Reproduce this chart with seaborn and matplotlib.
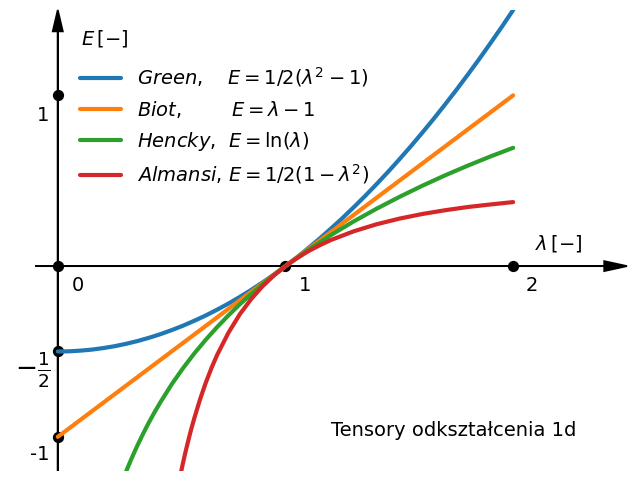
import matplotlib
matplotlib.use('Agg')

import seaborn as sns
import matplotlib.pyplot as plt
import pandas as pd

# wartości
lam_green = [0.0, 0.1, 0.2, 0.3, 0.4, 0.5, 0.6, 0.7, 0.8, 0.9, 1.0,
             1.1, 1.2, 1.3, 1.4, 1.5, 1.6, 1.7, 1.8, 1.9, 2.0]
E_green = [-0.5, -0.495, -0.48, -0.455, -0.42, -0.375, -0.32, -0.255, -0.18, -0.095, 0.0,
           0.105, 0.22, 0.345, 0.48, 0.625, 0.78, 0.945, 1.12, 1.305, 1.5]
# dodatkowe punkty pośrednie (odczyt)
lam_green_mid = [0.05, 0.15, 0.25, 0.35, 0.45, 0.55, 0.65, 0.75, 0.85, 0.95,
                 1.05, 1.15, 1.25, 1.35, 1.45, 1.55, 1.65, 1.75, 1.85, 1.95]
E_green_mid = [-0.499, -0.489, -0.469, -0.439, -0.399, -0.349, -0.289, -0.219, -0.139, -0.049,
               0.051, 0.161, 0.281, 0.411, 0.551, 0.701, 0.861, 1.031, 1.211, 1.401]

lam_biot = [0.0, 1.0, 2.0]
E_biot = [-1.0, 0.0, 1.0]

lam_hencky = [0.3, 0.31, 0.325, 0.34, 0.35, 0.375, 0.4, 0.425, 0.45, 0.5, 0.55, 0.6, 0.65, 0.7,
              0.75, 0.8, 0.85, 0.9, 0.95, 1.0,
              1.1, 1.2, 1.3, 1.4, 1.5, 1.6, 1.7, 1.8, 1.9, 2.0]
E_hencky = [-1.204, -1.171, -1.124, -1.079, -1.05, -0.981, -0.916, -0.856, -0.799, -0.693,
            -0.598, -0.511, -0.431, -0.357, -0.288, -0.223, -0.163, -0.105, -0.051, 0.0,
            0.095, 0.182, 0.262, 0.336, 0.405, 0.47, 0.531, 0.588, 0.642, 0.693]

lam_almansi = [0.54, 0.55, 0.56, 0.57, 0.58, 0.59, 0.6, 0.625, 0.65, 0.675, 0.7, 0.75, 0.8,
               0.85, 0.9, 0.95, 1.0, 1.05, 1.1, 1.15, 1.2, 1.3, 1.4, 1.5, 1.6, 1.7, 1.8, 1.9, 2.0]
E_almansi = [-1.215, -1.153, -1.094, -1.039, -0.986, -0.936, -0.889, -0.78, -0.683, -0.597,
             -0.52, -0.389, -0.281, -0.192, -0.117, -0.054, 0.0, 0.046, 0.087, 0.122,
             0.153, 0.204, 0.245, 0.278, 0.305, 0.327, 0.346, 0.361, 0.375]

labels = [r'$Green$,    $E=1/2(\lambda^2-1)$',
          r'$Biot$,        $E=\lambda-1$',
          r'$Hencky$,  $E=\ln(\lambda)$',
          r'$Almansi$, $E=1/2(1-\lambda^2)$']

pts_x = [0, 1, 2, 0, 0, 0]
pts_y = [0, 0, 0, 1, -0.5, -1]

green = pd.DataFrame({'lam': lam_green + lam_green_mid, 'E': E_green + E_green_mid})
green = green.sort_values('lam')

frames = [green.assign(tensor=labels[0])]
for lab, xs, ys in zip(labels[1:],
                       [lam_biot, lam_hencky, lam_almansi],
                       [E_biot, E_hencky, E_almansi]):
    frames.append(pd.DataFrame({'lam': xs, 'E': ys, 'tensor': lab}))
df = pd.concat(frames, ignore_index=True)

sns.set_style('white')
plt.rcParams['text.color'] = 'black'
fig = plt.figure(figsize=(6.4, 4.8), dpi=100)
ax = fig.add_axes([35/640, 9/480, 592/640, 461/480])

# punkty
ax.scatter(pts_x, pts_y, s=50, color='k', zorder=2)

sns.lineplot(data=df, x='lam', y='E', hue='tensor', palette=sns.color_palette('tab10', 4),
             sort=False, estimator=None, lw=3, ax=ax, zorder=3)

ax.set_xlim(-0.1, 2.5)
ax.set_ylim(-1.2, 1.5)
ax.axis('off')

# osie ze strzałkami
ax.arrow(-0.1, 0, 2.6, 0, width=0, head_width=0.058, head_length=0.1,
         length_includes_head=True, fc='k', ec='k', lw=1.3, zorder=1, clip_on=False)
ax.arrow(0, -1.2, 0, 2.7, width=0, head_width=0.044, head_length=0.125,
         length_includes_head=True, fc='k', ec='k', lw=1.3, zorder=1, clip_on=False)

ax.text(0.1, 1.335, r'$E\,[-]$', fontsize=14, ha='left', va='center')
ax.text(2.2, 0.134, r'$\lambda\,[-]$', fontsize=14, ha='center', va='center')

ax.text(0.088, -0.111, '0', fontsize=14, ha='center', va='center')
ax.text(1.088, -0.111, '1', fontsize=14, ha='center', va='center')
ax.text(2.083, -0.111, '2', fontsize=14, ha='center', va='center')
ax.text(-0.066, 0.883, '1', fontsize=14, ha='center', va='center')
ax.text(-0.078, -1.105, '-1', fontsize=14, ha='center', va='center')
ax.text(-0.11, -0.608, r'$-\frac{1}{2}$', fontsize=19, ha='center', va='center')

ax.text(1.737, -0.96, 'Tensory odkształcenia 1d', fontsize=14, ha='center', va='center')

ax.legend(loc='upper left', bbox_to_anchor=(0.047, 0.918), frameon=False, fontsize=14,
          handlelength=2.1, labelspacing=0.5)

plt.savefig('out.png', dpi=100)
